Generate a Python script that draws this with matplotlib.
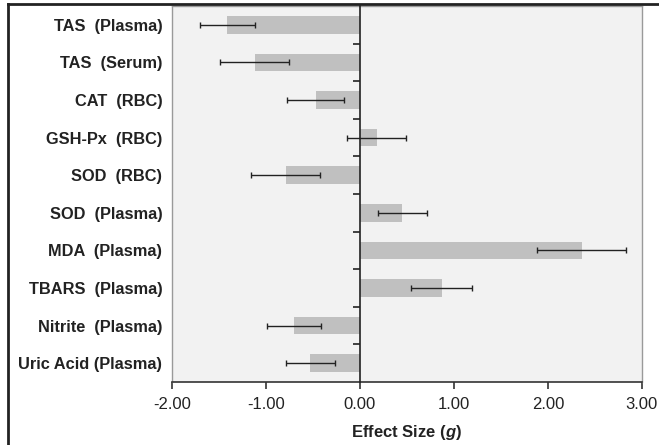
import matplotlib

matplotlib.use("Agg")

import numpy as np
import matplotlib.pyplot as plt
from matplotlib.lines import Line2D

plt.rcParams['font.family'] = ['Liberation Sans', 'DejaVu Sans']
plt.rcParams['mathtext.fontset'] = 'custom'
plt.rcParams['mathtext.it'] = 'Liberation Sans:italic:bold'
plt.rcParams['mathtext.rm'] = 'Liberation Sans:bold'

# %%

labels = ['TAS  (Plasma)', 'TAS  (Serum)', 'CAT  (RBC)', 'GSH-Px  (RBC)', 'SOD  (RBC)',
          'SOD  (Plasma)', 'MDA  (Plasma)', 'TBARS  (Plasma)', 'Nitrite  (Plasma)', 'Uric Acid (Plasma)']
effect = [-1.41, -1.12, -0.47, 0.18, -0.79, 0.45, 2.36, 0.87, -0.70, -0.53]
ci_half = [0.29, 0.365, 0.305, 0.315, 0.37, 0.26, 0.475, 0.325, 0.285, 0.26]
xticks = [-2.0, -1.0, 0.0, 1.0, 2.0, 3.0]

####################

fig = plt.figure(figsize=(6.59, 4.45), dpi=100)
ax = fig.add_axes([0.261, 0.1416, 0.713, 0.845])
ax.set_facecolor('#f2f2f2')

y = np.arange(len(labels))
ax.barh(y, effect, height=0.47, color='#c0c0c0', zorder=2)
ax.errorbar(effect, y, xerr=ci_half, fmt='none', ecolor='#222222', elinewidth=1.0,
            capsize=2, capthick=1.0, zorder=3)

ax.set_xlim(-2, 3)
ax.set_ylim(len(labels) - 0.5, -0.5)
ax.set_xticks(xticks)
ax.set_xticklabels(['%.2f' % v for v in xticks], fontsize=12, color='#222222')
ax.set_yticks(y)
ax.set_yticklabels(labels, fontsize=11.8, fontweight='bold', color='#222222')
ax.tick_params(axis='y', length=0, pad=7)
ax.tick_params(axis='x', length=5, width=1.2, color='#333333', pad=6)

for s in ['left', 'top', 'right']:
    ax.spines[s].set_color('#9a9a9a')
    ax.spines[s].set_linewidth(1.0)
ax.spines['bottom'].set_color('#333333')
ax.spines['bottom'].set_linewidth(1.2)

ax.set_xlabel(r'Effect Size ($g$)', fontsize=12, fontweight='bold',
              color='#222222', labelpad=8)

# zero line with category boundary ticks
ax2 = ax.twinx()
ax2.set_ylim(ax.get_ylim())
for s in ['top', 'right', 'bottom']:
    ax2.spines[s].set_visible(False)
ax2.spines['left'].set_position(('data', 0))
ax2.spines['left'].set_color('#222222')
ax2.spines['left'].set_linewidth(1.2)
ax2.yaxis.set_ticks_position('left')
ax2.set_yticks(np.arange(len(labels) - 1) + 0.5)
ax2.set_yticklabels([])
ax2.tick_params(axis='y', length=5, width=1.2, color='#222222')

# outer frame
fig.add_artist(Line2D([0.012, 1.0], [0.991, 0.991], color='#222222', lw=2, transform=fig.transFigure))
fig.add_artist(Line2D([0.012, 0.012], [0.0, 0.991], color='#222222', lw=2, transform=fig.transFigure))

fig.savefig('out.png', dpi=100)
